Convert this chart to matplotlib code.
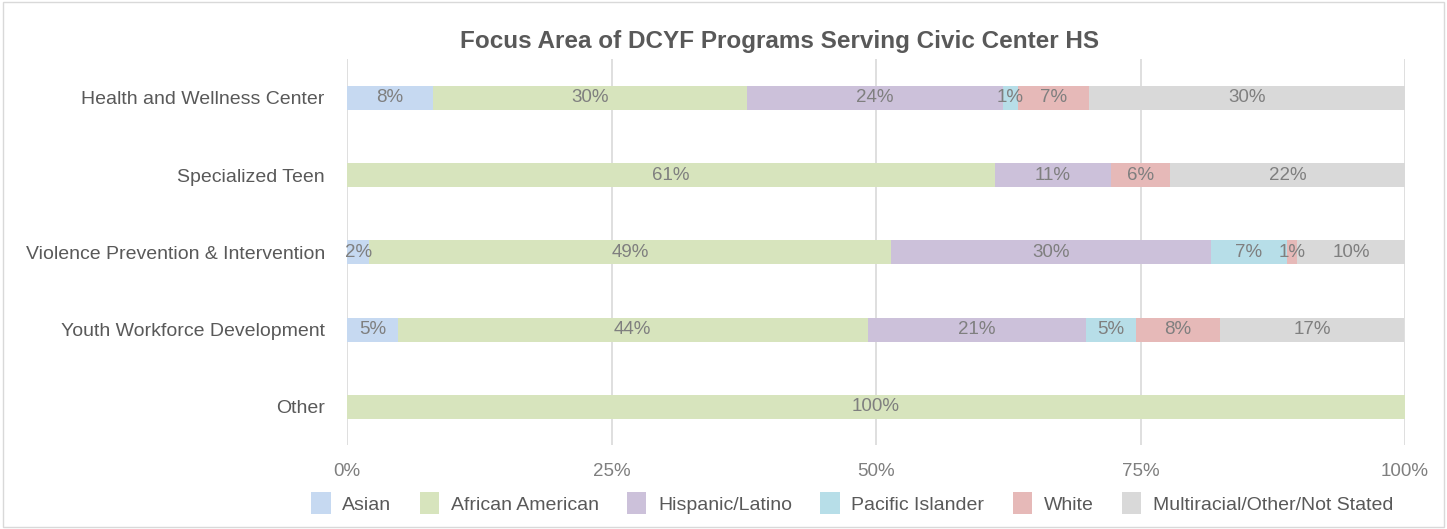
import matplotlib.pyplot as plt
import numpy as np
from matplotlib.patches import Rectangle

plt.rcParams['font.family'] = ['Liberation Sans', 'DejaVu Sans']

# Data (percent of each program area)
categories = ['Health and Wellness Center', 'Specialized Teen',
              'Violence Prevention & Intervention', 'Youth Workforce Development', 'Other']
groups = ['Asian', 'African American', 'Hispanic/Latino', 'Pacific Islander',
          'White', 'Multiracial/Other/Not Stated']
asian = [8.1, 0, 2.1, 4.8, 0]
african_american = [29.7, 61.2, 49.3, 44.4, 100]
hispanic = [24.2, 11.0, 30.3, 20.6, 0]
pacific = [1.4, 0, 7.1, 4.8, 0]
white = [6.7, 5.6, 1.0, 7.9, 0]
multi = [29.9, 22.2, 10.2, 17.4, 0]

series = [asian, african_american, hispanic, pacific, white, multi]
colors = ['#c6d9f1', '#d7e4bd', '#ccc1da', '#b7dee8', '#e6b9b8', '#d9d9d9']

fig = plt.figure(figsize=(14.47, 5.29), dpi=100)
ax = fig.add_axes([0.2398, 0.158, 0.7312, 0.73])

y = np.arange(len(categories))
left = np.zeros(len(categories))
for name, vals, col in zip(groups, series, colors):
    vals = np.array(vals)
    ax.barh(y, vals, left=left, height=0.31, color=col, label=name, zorder=2)
    for yi, (l, v) in enumerate(zip(left, vals)):
        if v > 0:
            ax.text(l + v / 2, yi, f'{v:.0f}%', ha='center', va='center',
                    fontsize=13.5, color='#7f7f7f', zorder=3)
    left += vals

ax.set_xlim(0, 100)
ax.set_ylim(len(categories) - 0.5, -0.5)
ax.set_yticks(y)
ax.set_yticklabels(categories, fontsize=14, color='#595959')
ax.set_xticks([0, 25, 50, 75, 100])
ax.set_xticklabels(['0%', '25%', '50%', '75%', '100%'], fontsize=13.5, color='#7f7f7f')
ax.tick_params(axis='y', length=0, pad=16)
ax.tick_params(axis='x', length=0, pad=13)
ax.grid(axis='x', color='#d9d9d9', linewidth=1.2, zorder=0)
for s in ax.spines.values():
    s.set_visible(False)

fig.text(0.539, 0.921, 'Focus Area of DCYF Programs Serving Civic Center HS',
         fontsize=17.5, fontweight='bold', color='#595959', ha='center', va='center')

fig.legend(loc='center', bbox_to_anchor=(0.589, 0.049), ncol=6, frameon=False,
           fontsize=14, labelcolor='#595959', handlelength=1.0, handleheight=1.3,
           columnspacing=1.45, handletextpad=0.6)

fig.patches.append(Rectangle((0.002, 0.004), 0.996, 0.992, transform=fig.transFigure,
                             fill=False, edgecolor='#d9d9d9', linewidth=1))

fig.savefig('out.png', dpi=100)
